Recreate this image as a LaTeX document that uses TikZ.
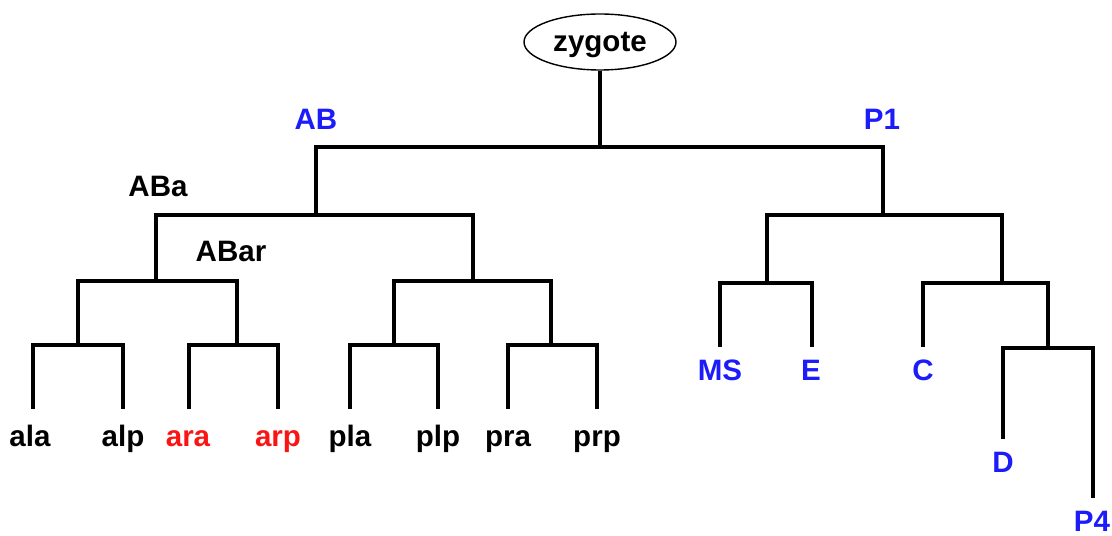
\documentclass[tikz,border=0pt]{standalone}
\usepackage{fontspec}
\setmainfont{Liberation Sans}
\usetikzlibrary{shapes.geometric}

\definecolor{cellblue}{RGB}{28,28,250}
\definecolor{cellred}{RGB}{250,20,20}

\begin{document}
\begin{tikzpicture}
	[x=0.025cm,y=-0.025cm,
	 branch/.style={line width=2.7pt,line join=miter},
	 lbl/.style={font=\fontsize{21}{25}\selectfont\bfseries,inner sep=0pt,anchor=base},
	 founder/.style={lbl,text=cellblue}]
	\useasboundingbox (0,0) rectangle (1112,536);
	\node[ellipse, draw, line width=1pt, minimum width=152*0.025cm, minimum height=56*0.025cm,
	  inner sep=0pt] (zygote) at (600,42) {};
	\node[lbl] (tzyg) at (600,52) {zygote};
	
	% junctions
	\coordinate (zj) at (600,147);
	\coordinate (ABj) at (316,215);
	\coordinate (P1j) at (883,215);
	\coordinate (ABaj) at (156,281);
	\coordinate (ABpj) at (473,281);
	\coordinate (ABalj) at (78,345);
	\coordinate (ABarj) at (237,345);
	\coordinate (ABplj) at (394,345);
	\coordinate (ABprj) at (551,345);
	\coordinate (EMSj) at (767,283);
	\coordinate (P2j) at (1002,283);
	\coordinate (P3j) at (1048,348);
	
	% line ends
	\foreach \n/\x in {ala/33,alp/123,ara/189,arp/278,pla/350,plp/438,pra/508,prp/597}
	\coordinate (\n) at (\x,409);
	\coordinate (MS) at (720,347);
	\coordinate (E) at (812,347);
	\coordinate (C) at (923,347);
	\coordinate (D) at (1003,439);
	\coordinate (P4) at (1093,498);
	
	\draw[branch] (zygote.south) -- (zj);
	\draw[branch] (ABj) |- (zj) -| (P1j);
	\draw[branch] (ABaj) |- (ABj) -| (ABpj);
	\draw[branch] (ABalj) |- (ABaj) -| (ABarj);
	\draw[branch] (ABplj) |- (ABpj) -| (ABprj);
	\foreach \l/\j/\r in {ala/ABalj/alp,ara/ABarj/arp,pla/ABplj/plp,pra/ABprj/prp}
	\draw[branch] (\l) |- (\j) -| (\r);
	\draw[branch] (EMSj) |- (P1j) -| (P2j);
	\draw[branch] (MS) |- (EMSj) -| (E);
	\draw[branch] (C) |- (P2j) -| (P3j);
	\draw[branch] (D) |- (P3j) -| (P4);
	
	% labels
	\node[founder] (tAB) at (316,130) {AB};
	\node[founder] (tP1) at (882,130) {P1};
	\node[lbl] (tABa) at (158,197) {ABa};
	\node[lbl] (tABar) at (231,262) {ABar};
	\foreach \n/\x/\c in {ala/30/black,alp/123/black,ara/188/cellred,arp/278/cellred,pla/350/black,plp/438/black,pra/508/black,prp/597/black}
	\node[lbl,text=\c] (t\n) at (\x,447) {\n};
	\node[founder] (tMS) at (720,381) {MS};
	\node[founder] (tE) at (811,381) {E};
	\node[founder] (tC) at (923,381) {C};
	\node[founder] (tD) at (1003,473) {D};
	\node[founder] (tP4) at (1092,532) {P4};
\end{tikzpicture}
\end{document}
